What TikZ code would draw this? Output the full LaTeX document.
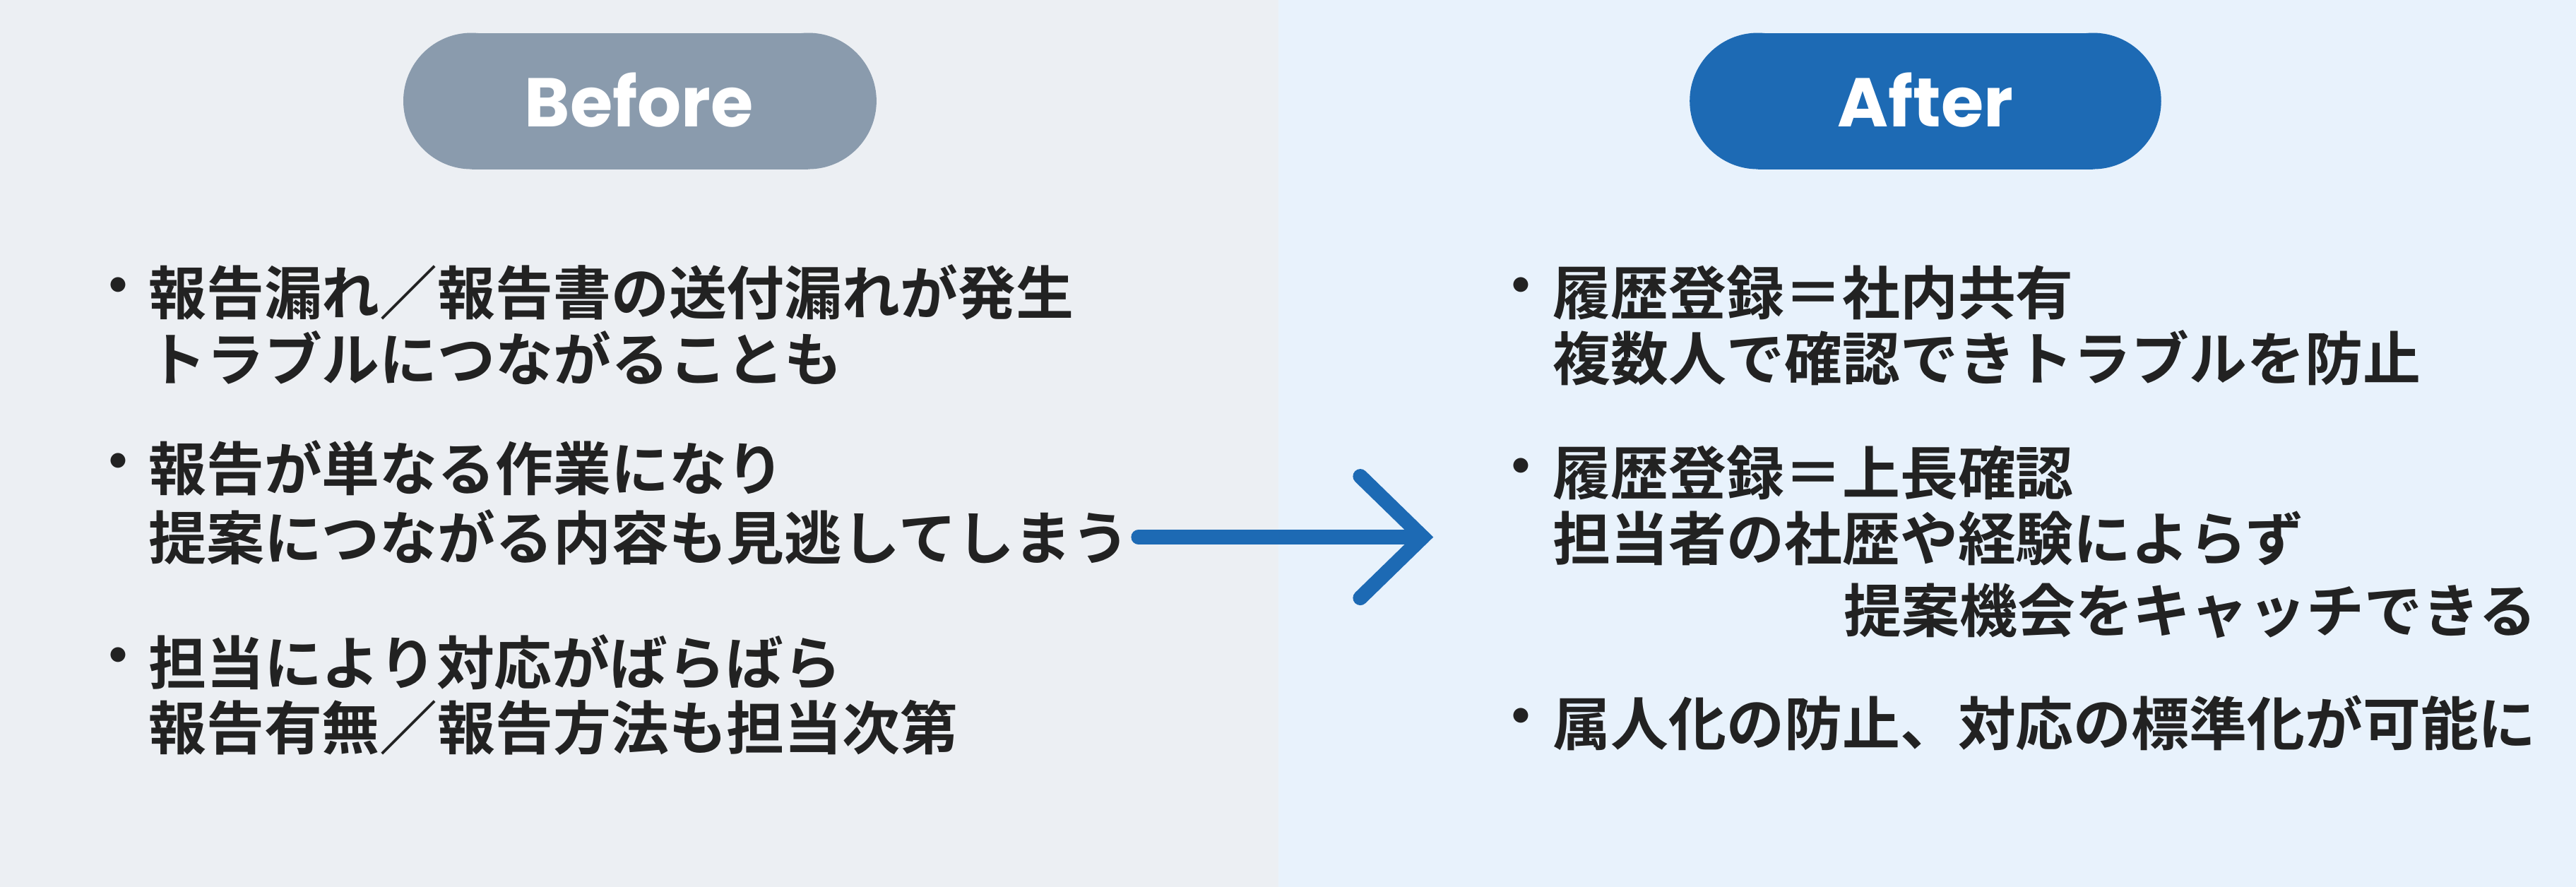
\documentclass[tikz,border=0pt]{standalone}
\usepackage{fontspec}
\setmainfont{Noto Sans CJK JP}[BoldFont={* Bold}]
\newfontfamily\popfont{Poppins}
\definecolor{bgL}{HTML}{ECEFF3}
\definecolor{bgR}{HTML}{E8F2FC}
\definecolor{pillL}{HTML}{8A9BAD}
\definecolor{blu}{HTML}{1D6AB4}
\definecolor{txt}{HTML}{222222}
\begin{document}
\begin{tikzpicture}[x=0.5pt,y=-0.5pt,
  t/.style={anchor=west,inner sep=0,font=\bfseries\fontsize{17.6pt}{19pt}\selectfont,text=txt},
  bl/.style={inner sep=0,font=\bfseries\fontsize{17.6pt}{19pt}\selectfont,text=txt},
  pt/.style={text=white,font=\popfont\bfseries\fontsize{21pt}{24pt}\selectfont}]
\useasboundingbox (0,0) rectangle (1568,540);
\fill[bgL] (0,0) rectangle (778,540);
\fill[bgR] (778,0) rectangle (1568,540);
\fill[pillL] (287,20) rectangle (492,103);
\fill[pillL] (287,61.5) circle[radius=41.5];
\fill[pillL] (492,61.5) circle[radius=41.5];
\node[pt] (before) at (389,61) {Before};
\fill[blu] (1070,20) rectangle (1274,103);
\fill[blu] (1070,61.5) circle[radius=41.5];
\fill[blu] (1274,61.5) circle[radius=41.5];
\node[pt] (after) at (1172,61) {After};
% left
\node[bl] (b1) at (72,178) {・};
\node[t] (l1) at (90,178) {報告漏れ／報告書の送付漏れが発生};
\node[t] (l2) at (90,218) {トラブルにつながることも};
\node[bl] (b2) at (72,285) {・};
\node[t] (l3) at (90,285) {報告が単なる作業になり};
\node[t] (l4) at (90,327) {提案につながる内容も見逃してしまう};
\node[bl] (b3) at (72,403) {・};
\node[t] (l5) at (90,403) {担当により対応がばらばら};
\node[t] (l6) at (90,443) {報告有無／報告方法も担当次第};
% right
\node[bl] (c1) at (926,178) {・};
\node[t] (r1) at (945,178) {履歴登録＝社内共有};
\node[t] (r2) at (945,218) {複数人で確認できトラブルを防止};
\node[bl] (c2) at (926,288) {・};
\node[t] (r3) at (945,288) {履歴登録＝上長確認};
\node[t] (r4) at (945,328) {担当者の社歴や経験によらず};
\node[t] (r5) at (1122,372) {提案機会をキャッチできる};
\node[bl] (c3) at (926,440) {・};
\node[t] (r6) at (945,440) {属人化の防止、対応の標準化が可能に};
% arrow
\coordinate (a0) at (693,327);
\coordinate (a1) at (866,327);
\draw[blu,line width=4.5pt,line cap=round] (a0) -- (a1);
\draw[blu,line width=4.5pt,line cap=round,line join=miter] (828,290) -- (a1) -- (828,364);
\end{tikzpicture}
\end{document}
